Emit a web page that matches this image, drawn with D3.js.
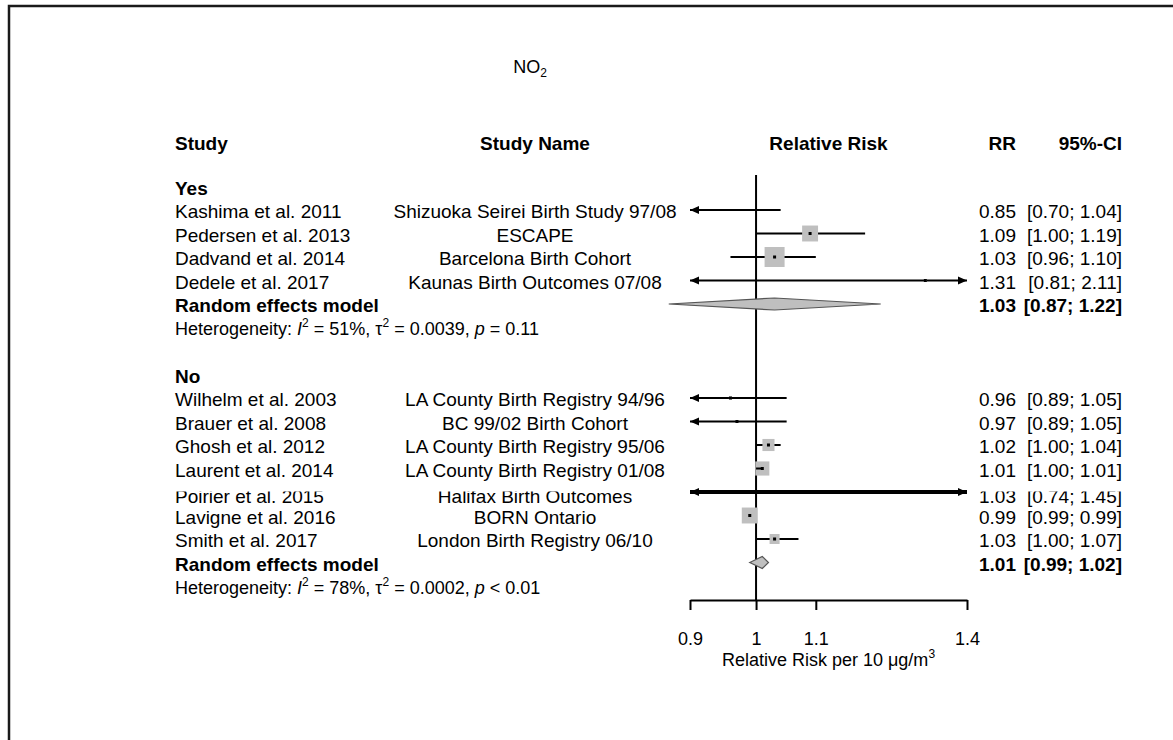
<!DOCTYPE html>
<html>
<head>
<meta charset="utf-8">
<script src="https://cdn.jsdelivr.net/npm/d3@7"></script>
<style>
  body { margin: 0; background: #fff; }
  svg text { font-family: "Liberation Sans", Arial, Helvetica, sans-serif; fill: #000; }
</style>
</head>
<body>
<svg id="chart" width="1173" height="740"></svg>
<script>
// ---- data -------------------------------------------------------------
const groupLabels = ["Yes", "No"];
const studyAuthors = [
  "Kashima et al. 2011", "Pedersen et al. 2013", "Dadvand et al. 2014", "Dedele et al. 2017",
  "Wilhelm et al. 2003", "Brauer et al. 2008", "Ghosh et al. 2012", "Laurent et al. 2014",
  "Poirier et al. 2015", "Lavigne et al. 2016", "Smith et al. 2017"
];
const studyNames = [
  "Shizuoka Seirei Birth Study 97/08", "ESCAPE", "Barcelona Birth Cohort", "Kaunas Birth Outcomes 07/08",
  "LA County Birth Registry 94/96", "BC 99/02 Birth Cohort", "LA County Birth Registry 95/06",
  "LA County Birth Registry 01/08", "Halifax Birth Outcomes", "BORN Ontario", "London Birth Registry 06/10"
];
const studyGroup = ["Yes", "Yes", "Yes", "Yes", "No", "No", "No", "No", "No", "No", "No"];
const rr      = [0.85, 1.09, 1.03, 1.31, 0.96, 0.97, 1.02, 1.01, 1.03, 0.99, 1.03];
const ciLower = [0.70, 1.00, 0.96, 0.81, 0.89, 0.89, 1.00, 1.00, 0.74, 0.99, 1.00];
const ciUpper = [1.04, 1.19, 1.10, 2.11, 1.05, 1.05, 1.04, 1.01, 1.45, 0.99, 1.07];
const weights = [12, 33, 52, 1, 1.2, 0.5, 19, 26, 0.1, 33, 13];

const pooledRR    = [1.03, 1.01];
const pooledLower = [0.87, 0.99];
const pooledUpper = [1.22, 1.02];
const hetI2   = ["51%", "78%"];
const hetTau2 = ["0.0039", "0.0002"];
const hetP    = ["= 0.11", "< 0.01"];

const xTicks = [0.9, 1, 1.1, 1.4];
const xTickLabels = ["0.9", "1", "1.1", "1.4"];

// ---- layout -----------------------------------------------------------
const svg = d3.select("#chart");
const fs = 19;
const colStudy = 175, colName = 535, colRR = 1016, colCI = 1122;

const x = d3.scaleLog().domain([0.9, 1.4]).range([690, 967]);
const y = d3.scaleLinear().domain([0, 17]).range([186.5, 586]);
const boxSize = d3.scaleSqrt().domain([0, 52]).range([0, 20]);

// build the row list: group label, studies, pooled model, heterogeneity, spacer
const rows = [];
groupLabels.forEach((g, gi) => {
  rows.push({ type: "group", label: g });
  studyGroup.forEach((sg, i) => { if (sg === g) rows.push({ type: "study", i }); });
  rows.push({ type: "pooled", gi });
  rows.push({ type: "het", gi });
  if (gi < groupLabels.length - 1) rows.push({ type: "blank" });
});
rows.forEach((r, k) => r.y = y(k));

const fmt = d3.format(".2f");
const ciText = (lo, hi) => `[${fmt(lo)}; ${fmt(hi)}]`;

// frame
svg.append("path").attr("d", "M9,740V6H1173")
  .attr("fill", "none").attr("stroke", "#1a1a1a").attr("stroke-width", 2.5);

// title
const title = svg.append("text").attr("x", 530).attr("y", 73)
  .attr("text-anchor", "middle").style("font-size", "18px");
title.append("tspan").text("NO");
title.append("tspan").attr("dy", 4).style("font-size", "12px").text("2");

// column headers
const headY = 143;
const head = [
  { t: "Study", x: colStudy, a: "start" },
  { t: "Study Name", x: colName, a: "middle" },
  { t: "Relative Risk", x: (x.range()[0] + x.range()[1]) / 2, a: "middle" },
  { t: "RR", x: colRR, a: "end" },
  { t: "95%-CI", x: colCI, a: "end" }
];
svg.selectAll("text.head").data(head).join("text").attr("class", "head")
  .attr("x", d => d.x).attr("y", headY).attr("dy", "0.35em")
  .attr("text-anchor", d => d.a).style("font-size", fs + "px").style("font-weight", "bold")
  .text(d => d.t);

// text per row
const tg = svg.append("g");
let maskY = null;
rows.forEach(r => {
  let ty = r.y + 1.5;
  if (r.type === "group") {
    tg.append("text").attr("x", colStudy).attr("y", ty).attr("dy", "0.35em")
      .style("font-size", fs + "px").style("font-weight", "bold").text(r.label);
  } else if (r.type === "study") {
    const i = r.i;
    if (studyAuthors[i].startsWith("Poirier")) { ty += 3; maskY = r.y; }
    tg.append("text").attr("x", colStudy).attr("y", ty).attr("dy", "0.35em")
      .style("font-size", fs + "px").text(studyAuthors[i]);
    tg.append("text").attr("x", colName).attr("y", ty).attr("dy", "0.35em")
      .attr("text-anchor", "middle").style("font-size", fs + "px").text(studyNames[i]);
    tg.append("text").attr("x", colRR).attr("y", ty).attr("dy", "0.35em")
      .attr("text-anchor", "end").style("font-size", fs + "px").text(fmt(rr[i]));
    tg.append("text").attr("x", colCI).attr("y", ty).attr("dy", "0.35em")
      .attr("text-anchor", "end").style("font-size", fs + "px").text(ciText(ciLower[i], ciUpper[i]));
  } else if (r.type === "pooled") {
    const g = r.gi;
    tg.append("text").attr("x", colStudy).attr("y", ty).attr("dy", "0.35em")
      .style("font-size", fs + "px").style("font-weight", "bold").text("Random effects model");
    tg.append("text").attr("x", colRR).attr("y", ty).attr("dy", "0.35em")
      .attr("text-anchor", "end").style("font-size", fs + "px").style("font-weight", "bold").text(fmt(pooledRR[g]));
    tg.append("text").attr("x", colCI).attr("y", ty).attr("dy", "0.35em")
      .attr("text-anchor", "end").style("font-size", fs + "px").style("font-weight", "bold")
      .text(ciText(pooledLower[g], pooledUpper[g]));
  } else if (r.type === "het") {
    const g = r.gi;
    const t = tg.append("text").attr("x", colStudy).attr("y", ty).attr("dy", "0.35em")
      .style("font-size", "18px");
    t.append("tspan").text("Heterogeneity: ");
    t.append("tspan").style("font-style", "italic").text("I");
    t.append("tspan").attr("dy", -8).style("font-size", "12px").text("2");
    t.append("tspan").attr("dy", 8).text(` = ${hetI2[g]}, τ`);
    t.append("tspan").attr("dy", -8).style("font-size", "12px").text("2");
    t.append("tspan").attr("dy", 8).text(` = ${hetTau2[g]}, `);
    t.append("tspan").style("font-style", "italic").text("p");
    t.append("tspan").text(" " + hetP[g]);
  }
});

// the Halifax row's text is trimmed along its top edge
if (maskY !== null) {
  svg.append("rect").attr("x", 170).attr("y", maskY - 11).attr("width", 960).attr("height", 10.5)
    .attr("fill", "#fff");
}

// reference line at RR = 1
svg.append("line").attr("x1", x(1)).attr("x2", x(1)).attr("y1", 175).attr("y2", 600)
  .attr("stroke", "#000").attr("stroke-width", 2);

// axis
const axis = svg.append("g").attr("transform", "translate(0,600)")
  .call(d3.axisBottom(x).tickValues(xTicks).tickFormat((d, i) => xTickLabels[i])
    .tickSize(10).tickSizeOuter(0).tickPadding(22));
axis.select(".domain").attr("stroke", "#000").attr("stroke-width", 2);
axis.selectAll(".tick line").attr("stroke", "#000").attr("stroke-width", 2);
axis.selectAll(".tick text").style("font-size", "18px").attr("font-family", null).attr("fill", "#000");

const xl = svg.append("text").attr("x", (x.range()[0] + x.range()[1]) / 2).attr("y", 666)
  .attr("text-anchor", "middle").style("font-size", "18px");
xl.append("tspan").text("Relative Risk per 10 μg/m");
xl.append("tspan").attr("dy", -8).style("font-size", "12px").text("3");

// study confidence intervals, boxes and point estimates
const [dMin, dMax] = x.domain();
const arrowHead = (tipX, yy, dir) =>
  `M${tipX},${yy}L${tipX + dir * 9},${yy - 4}L${tipX + dir * 9},${yy + 4}Z`;

const marks = svg.append("g");
rows.filter(r => r.type === "study").forEach(r => {
  const i = r.i, yy = r.y;
  const lo = Math.max(ciLower[i], dMin), hi = Math.min(ciUpper[i], dMax);
  const sw = studyAuthors[i].startsWith("Poirier") ? 4 : 2;
  marks.append("line").attr("x1", x(lo)).attr("x2", x(hi)).attr("y1", yy).attr("y2", yy)
    .attr("stroke", "#000").attr("stroke-width", sw);
  if (ciLower[i] < dMin) marks.append("path").attr("d", arrowHead(x(dMin), yy, 1)).attr("fill", "#000");
  if (ciUpper[i] > dMax) marks.append("path").attr("d", arrowHead(x(dMax), yy, -1)).attr("fill", "#000");
  if (rr[i] >= dMin && rr[i] <= dMax) {
    const s = boxSize(weights[i]);
    marks.append("rect").attr("x", x(rr[i]) - s / 2).attr("y", yy - s / 2)
      .attr("width", s).attr("height", s).attr("fill", "#bfbfbf");
    // CI fully inside the box stays visible on top of it
    if (x(ciLower[i]) >= x(rr[i]) - s / 2 && x(ciUpper[i]) <= x(rr[i]) + s / 2) {
      marks.append("line").attr("x1", x(ciLower[i])).attr("x2", x(ciUpper[i])).attr("y1", yy).attr("y2", yy)
        .attr("stroke", "#000").attr("stroke-width", 2);
    }
    marks.append("rect").attr("x", x(rr[i]) - 1.5).attr("y", yy - 1.5)
      .attr("width", 3).attr("height", 3).attr("fill", "#000");
  }
});

// pooled diamonds
rows.filter(r => r.type === "pooled").forEach(r => {
  const g = r.gi, yy = r.y, h = 6;
  const pts = [[x(pooledLower[g]), yy], [x(pooledRR[g]), yy - h], [x(pooledUpper[g]), yy], [x(pooledRR[g]), yy + h]];
  marks.append("polygon").attr("points", pts.map(p => p.join(",")).join(" "))
    .attr("fill", "#bfbfbf").attr("stroke", "#555").attr("stroke-width", 1.2);
});
</script>
</body>
</html>
